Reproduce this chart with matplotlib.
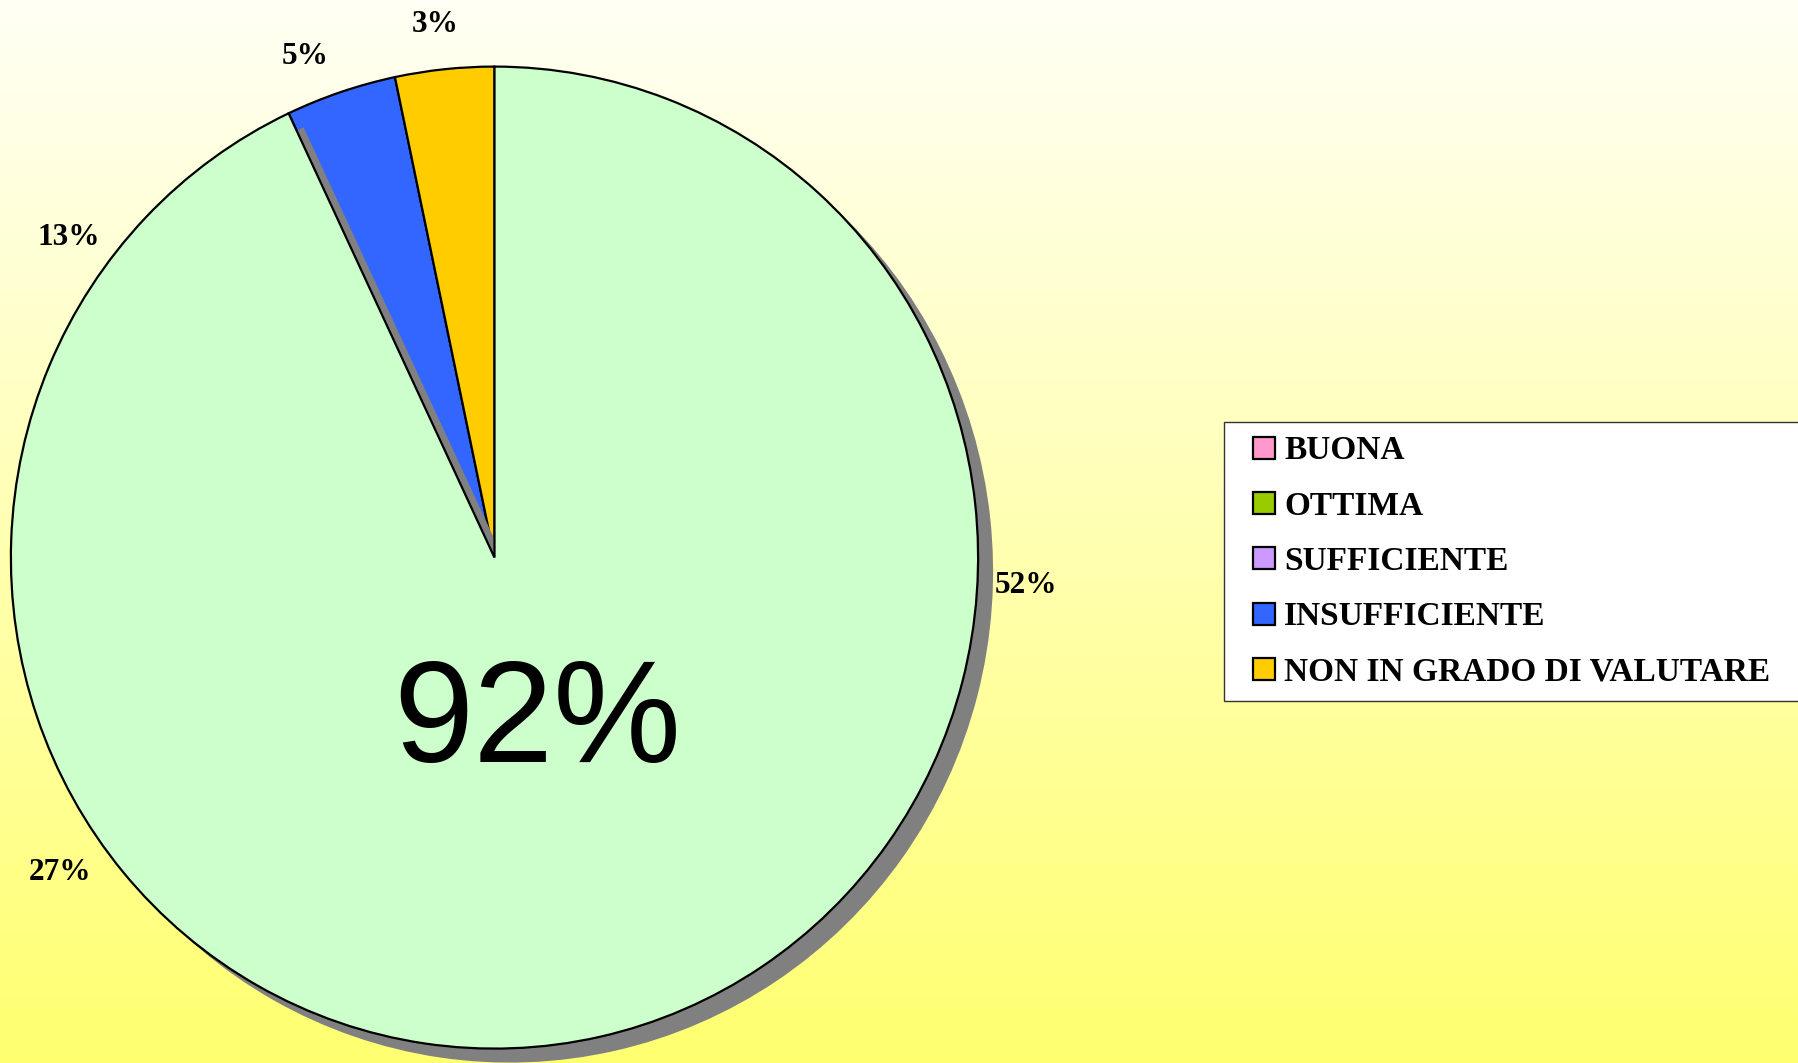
import numpy as np
import matplotlib
matplotlib.use('Agg')
import matplotlib.pyplot as plt
from matplotlib.patches import Patch, Rectangle
from matplotlib.legend_handler import HandlerPatch
from matplotlib.colors import LinearSegmentedColormap
from matplotlib.font_manager import FontProperties

# ---- data ----
categories = ['BUONA', 'OTTIMA', 'SUFFICIENTE', 'INSUFFICIENTE', 'NON IN GRADO DI VALUTARE']
percent_values = [52, 27, 13, 5, 3]
legend_colors = ['#FF99CC', '#99CC00', '#CC99FF', '#3366FF', '#FFCC00']

slice_names = ['BUONA + OTTIMA + SUFFICIENTE', 'INSUFFICIENTE', 'NON IN GRADO DI VALUTARE']
slice_values = [93.0, 3.7, 3.3]
slice_colors = ['#CCFFCC', '#3366FF', '#FFCC00']
center_label = '92%'

# ---- figure ----
W, H = 1799, 1063
fig = plt.figure(figsize=(W / 100, H / 100), dpi=100)

bg = fig.add_axes([0, 0, 1, 1])
bg.set_axis_off()
grad = np.linspace(0, 1, 256).reshape(-1, 1)
cmap = LinearSegmentedColormap.from_list('bg', ['#FFFFF5', '#FFFF70'])
bg.imshow(grad, aspect='auto', cmap=cmap, extent=[0, 1, 0, 1], origin='upper')

cx, cy, rx, ry = 494.5, 557.6, 483.6, 491.0
ax = fig.add_axes([(cx - rx) / W, (H - cy - ry) / H, 2 * rx / W, 2 * ry / H])
ax.patch.set_alpha(0)

sx, sy = 15 / rx, -14 / ry
shadow, _ = ax.pie(slice_values, colors=['#808080'] * len(slice_values), startangle=90,
                   counterclock=False, center=(sx, sy), wedgeprops=dict(linewidth=0))
for i, w in enumerate(shadow):
    w.set_zorder(3 if i == 0 else 1)

main, _ = ax.pie(slice_values, colors=slice_colors, startangle=90, counterclock=False,
                 wedgeprops=dict(edgecolor='black', linewidth=1.6))
for i, w in enumerate(main):
    w.set_zorder(4 if i == 0 else 2)

lab_font = FontProperties(family='Liberation Serif', weight='bold', size=22.5)
lw_, _, autotexts = ax.pie(percent_values, startangle=91.0, counterclock=False,
                           autopct='%1.0f%%', pctdistance=1.10)
for w in lw_:
    w.set_visible(False)
for t in autotexts:
    t.set_fontproperties(lab_font)
    t.set_color('black')
    t.set_verticalalignment('center_baseline')
    t.set_zorder(6)

ax.text(43 / rx, (cy - 761.7) / ry, center_label, fontsize=103.6, family='Liberation Sans',
        ha='center', va='baseline', color='black', zorder=6)

ax.set_xlim(-1, 1)
ax.set_ylim(-1, 1)
ax.set_aspect('auto')
ax.set_axis_off()


def square_at_right(legend, orig_handle, xdescent, ydescent, width, height, fontsize):
    return Rectangle((width - height - xdescent, -ydescent), height, height)


handles = [Patch(facecolor=c, edgecolor='black', linewidth=1.6) for c in legend_colors]
top = 1 - 422 / H
leg = fig.legend(handles, categories, loc='upper left',
                 bbox_to_anchor=(1224 / W, top - 0.3, 0.4, 0.3), mode='expand',
                 prop=FontProperties(family='Liberation Serif', weight='bold', size=24),
                 frameon=True, fancybox=False, framealpha=1, edgecolor='#333333',
                 facecolor='white', handlelength=1.13, handleheight=0.63,
                 handletextpad=0.28, labelspacing=0.73, borderpad=0.4, borderaxespad=0,
                 handler_map={Patch: HandlerPatch(patch_func=square_at_right)})
leg.get_frame().set_linewidth(1.0)

fig.savefig('out.png', dpi=100)
